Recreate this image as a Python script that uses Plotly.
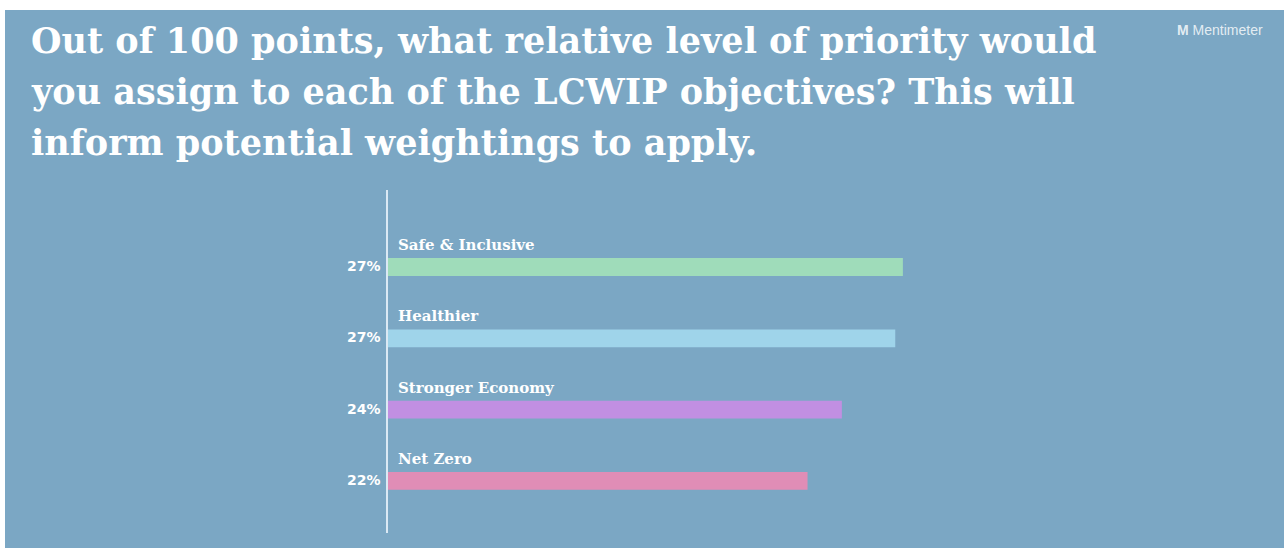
import plotly.graph_objects as go

categories = ["Safe & Inclusive", "Healthier", "Stronger Economy", "Net Zero"]
values = [27.0, 26.6, 23.8, 22.0]
pct_labels = ["27%", "27%", "24%", "22%"]
bar_colors = ["#9fdcba", "#9fd4ea", "#c18fe2", "#e08db6"]
title_lines = ["Out of 100 points, what relative level of priority would",
               "you assign to each of the LCWIP objectives? This will",
               "inform potential weightings to apply."]

W, H = 1287, 548
L, R, T, B = 388, 27, 190, 15
pw, ph = W - L - R, H - T - B
BG = "#7ba7c4"


def py(p):
    """pixel y (from top) -> paper y"""
    return (H - B - p) / ph


def px(p):
    return (p - L) / pw


fig = go.Figure()
fig.add_trace(go.Bar(
    x=values, y=categories, orientation="h",
    marker=dict(color=bar_colors, line=dict(width=0)),
    width=0.25, hoverinfo="skip",
))

ann = []
for c, p in zip(categories, pct_labels):
    ann.append(dict(x=0, y=c, xref="x", yref="y", text=c, showarrow=False,
                    xanchor="left", yanchor="bottom", xshift=8, yshift=11,
                    font=dict(family="DejaVu Serif", size=15, color="white", weight="bold")))
    ann.append(dict(x=0, y=c, xref="paper", yref="y", text=p, showarrow=False,
                    xanchor="right", yanchor="middle", xshift=-5, yshift=1,
                    font=dict(family="DejaVu Sans", size=14, color="white", weight="bold")))

for i, line in enumerate(title_lines):
    ann.append(dict(x=px(29), y=py(18 + 51 * i), xref="paper", yref="paper",
                    text=line, showarrow=False, xanchor="left", yanchor="top",
                    align="left",
                    font=dict(family="DejaVu Serif", size=35, color="white", weight="bold")))
ann.append(dict(x=px(1265), y=py(30), xref="paper", yref="paper",
                text="<b>M</b> Mentimeter", showarrow=False, xanchor="right", yanchor="middle",
                font=dict(family="Liberation Sans", size=14, color="rgba(255,255,255,0.8)")))

fig.update_layout(
    width=W, height=H,
    margin=dict(l=L, r=R, t=T, b=B, pad=0),
    paper_bgcolor="white", plot_bgcolor="rgba(0,0,0,0)",
    showlegend=False,
    annotations=ann,
    shapes=[dict(type="rect", xref="paper", yref="paper", layer="below",
                 x0=px(5), x1=px(1284), y0=py(548), y1=py(10),
                 fillcolor=BG, line=dict(width=0))],
    xaxis=dict(range=[0, pw / 19.07], visible=False, fixedrange=True),
    yaxis=dict(range=[3.73, -1.08], showticklabels=False, showgrid=False,
               zeroline=False, showline=True, linecolor="#dbe9f4", linewidth=2,
               ticks=""),
)

fig.write_html("out.html")
